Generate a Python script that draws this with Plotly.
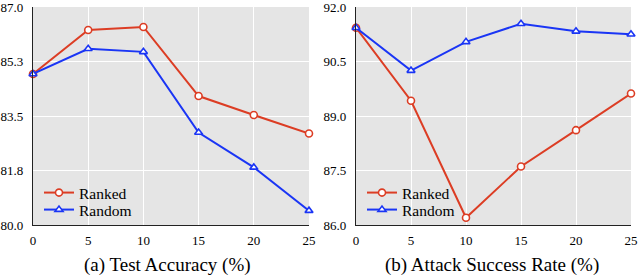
import plotly.graph_objects as go

x_vals = [0, 5, 10, 15, 20, 25]
acc_ranked = [84.85, 86.26, 86.36, 84.14, 83.53, 82.94]
acc_random = [84.85, 85.66, 85.56, 82.97, 81.85, 80.46]
asr_ranked = [91.43, 89.42, 86.20, 87.61, 88.61, 89.62]
asr_random = [91.43, 90.25, 91.04, 91.54, 91.33, 91.25]
acc_ticks = [80.0, 81.75, 83.5, 85.25, 87.0]
acc_ticktext = ["80.0", "81.8", "83.5", "85.3", "87.0"]
asr_ticks = [86.0, 87.5, 89.0, 90.5, 92.0]
asr_ticktext = ["86.0", "87.5", "89.0", "90.5", "92.0"]
titles = ["(a) Test Accuracy (%)", "(b) Attack Success Rate (%)"]
names = ["Ranked", "Random"]

RED = "#dc3d24"
BLUE = "#1a35f5"
FONT = "Liberation Serif, Times New Roman, Times, serif"

fig = go.Figure()

def add(x, y, name, color, symbol, xa, ya, legend):
    fig.add_trace(go.Scatter(
        x=x, y=y, name=name, mode="lines+markers",
        line=dict(color=color, width=2),
        marker=dict(symbol=symbol, size=7, color="white",
                    line=dict(color=color, width=1.6)),
        xaxis=xa, yaxis=ya, legend=legend, cliponaxis=False))

add(x_vals, acc_ranked, names[0], RED, "circle", "x", "y", "legend")
add(x_vals, acc_random, names[1], BLUE, "triangle-up", "x", "y", "legend2")
add(x_vals, asr_ranked, names[0], RED, "circle", "x2", "y2", "legend3")
add(x_vals, asr_random, names[1], BLUE, "triangle-up", "x2", "y2", "legend4")

W, H = 638, 278
ytop = 1 - 7 / H
ybot = 1 - 225 / H

axis_common = dict(showgrid=True, gridcolor="white", gridwidth=1.2,
                   showline=True, linecolor="#222", linewidth=1.2,
                   ticks="", zeroline=False, automargin=False,
                   ticklabeloverflow="allow",
                   tickfont=dict(family=FONT, size=13, color="black"))

def leg(x, y):
    return dict(x=x / W, y=1 - y / H, xanchor="left", yanchor="middle",
                bgcolor="rgba(0,0,0,0)", font=dict(family=FONT, size=15.5),
                itemwidth=30, tracegroupgap=0, borderwidth=0)

fig.update_layout(
    width=W, height=H,
    margin=dict(l=0, r=0, t=0, b=0, autoexpand=False),
    paper_bgcolor="white", plot_bgcolor="#e5e5e5",
    font=dict(family=FONT, color="black"),
    xaxis=dict(domain=[33 / W, 309 / W], range=[0, 25], ticklabelstandoff=3,
               tickvals=x_vals, anchor="y", **axis_common),
    yaxis=dict(domain=[ybot, ytop], range=[80, 87], tickvals=acc_ticks,
               ticklabelstandoff=6,
               ticktext=acc_ticktext, anchor="x", **axis_common),
    xaxis2=dict(domain=[356 / W, 631 / W], range=[0, 25], ticklabelstandoff=3,
                tickvals=x_vals, anchor="y2", **axis_common),
    yaxis2=dict(domain=[ybot, ytop], range=[86, 92], tickvals=asr_ticks,
                ticklabelstandoff=6,
                ticktext=asr_ticktext, anchor="x2", **axis_common),
    legend=leg(39, 193),
    legend2=leg(39, 210),
    legend3=leg(362, 193),
    legend4=leg(362, 210),
    showlegend=True,
)

title_centers = [167, 492]
for t, cxp in zip(titles, title_centers):
    fig.add_annotation(text=t, x=cxp / W, y=1 - 265 / H, xref="paper", yref="paper",
                       showarrow=False, xanchor="center", yanchor="middle",
                       font=dict(family=FONT, size=19, color="black"))

fig.write_html("out.html", config={"displayModeBar": False},
               post_script="document.body.style.margin='0px';")
